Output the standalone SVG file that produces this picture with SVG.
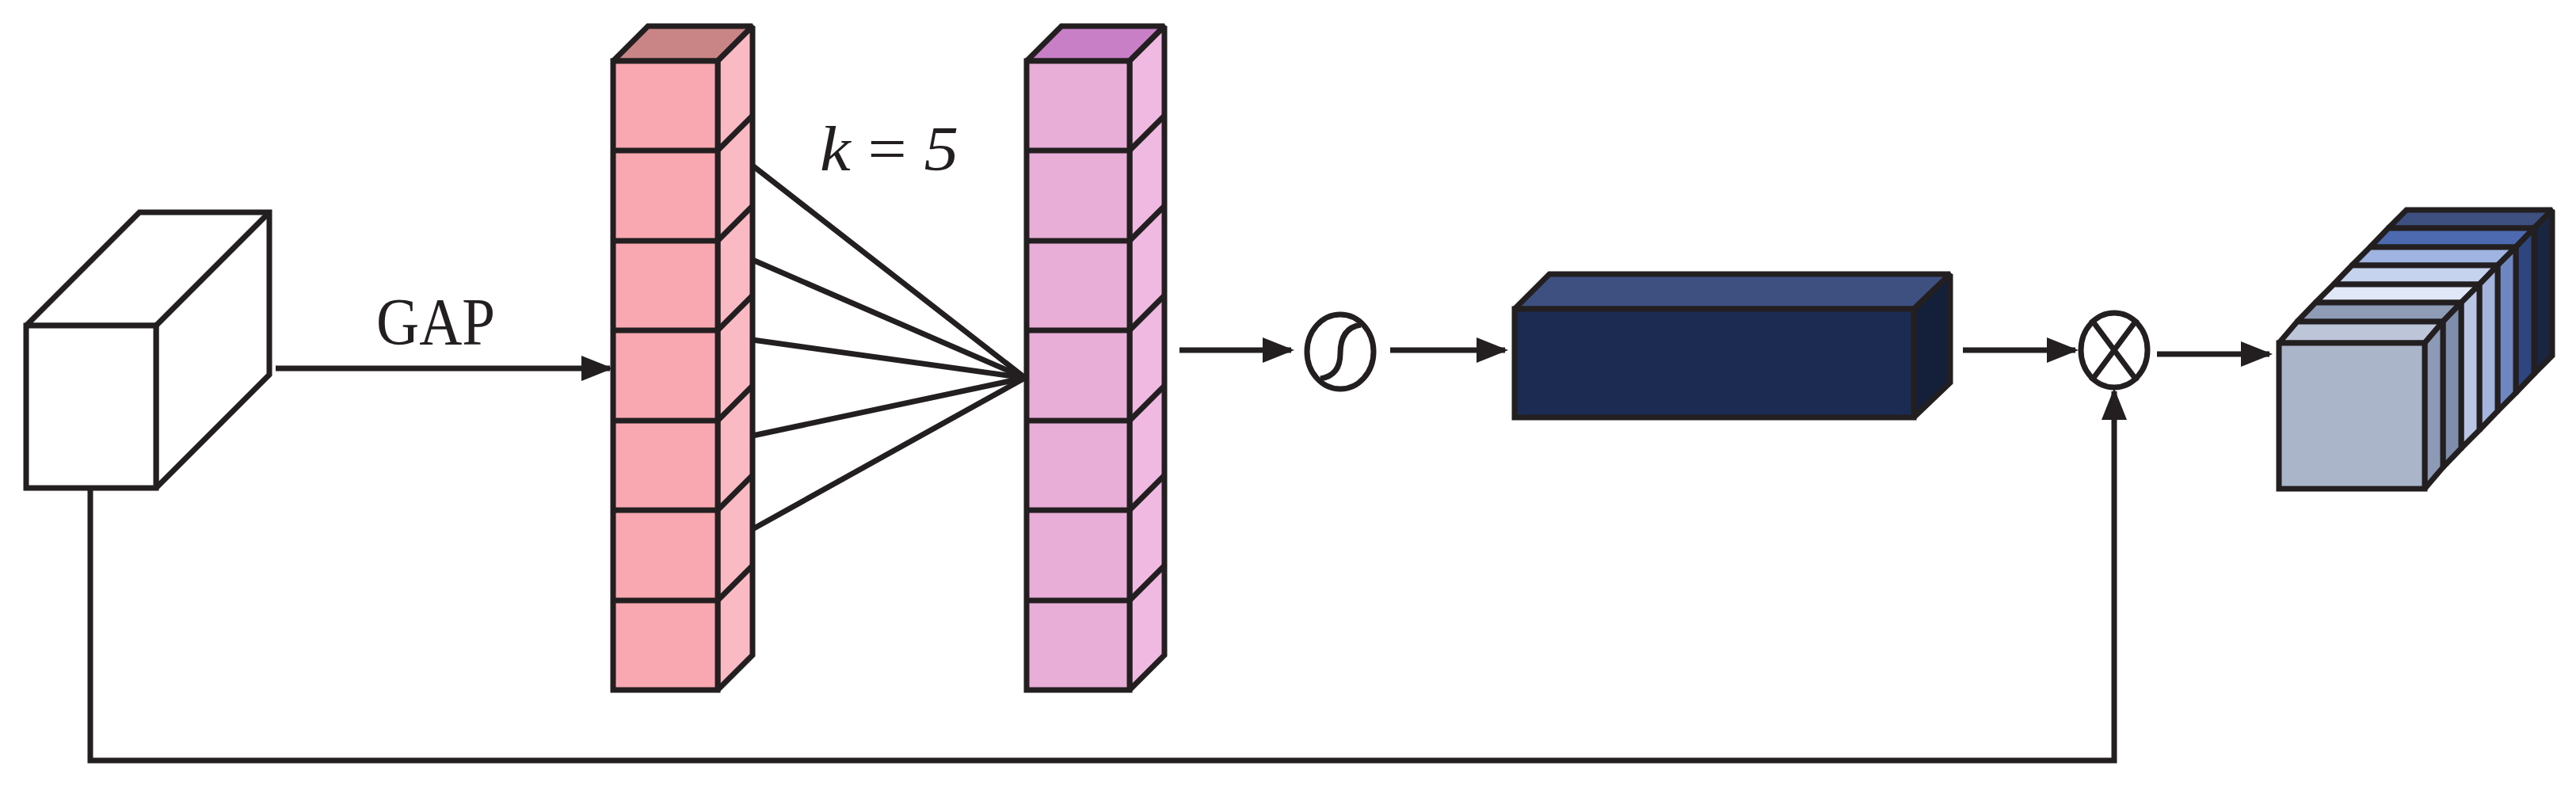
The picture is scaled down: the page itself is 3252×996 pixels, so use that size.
<svg xmlns="http://www.w3.org/2000/svg" width="3252" height="996" viewBox="0 0 3252 996">
<style>
.s{stroke:#231f20;stroke-width:7;stroke-linejoin:miter;stroke-miterlimit:2}
.l{stroke:#231f20;stroke-width:7;fill:none;stroke-miterlimit:2}
</style>
<defs>
<marker id="a" viewBox="0 0 10 10" refX="9" refY="5" markerWidth="40" markerHeight="40" markerUnits="userSpaceOnUse" orient="auto">
<path d="M0,1 L10,5 L0,9 z" fill="#231f20"/>
</marker>
</defs>
<rect width="3252" height="996" fill="#fff"/>
<g id="input">
<polygon class="s" fill="#fff" points="33,411 176,268 340,268 340,473 197,616 197,411"/>
<rect class="s" fill="#fff" x="33" y="411" width="164" height="205"/>
<line class="s" x1="197" y1="411" x2="340" y2="268"/>
</g>
<g id="gap-label"><text x="550" y="435" font-family="Liberation Serif, serif" font-size="84" text-anchor="middle" fill="#231f20" textLength="150" lengthAdjust="spacingAndGlyphs">GAP</text></g>
<g id="col1">
<polygon class="s" fill="#c98585" points="774,77 818,33 950,33 906,77"/>
<polygon class="s" fill="#f9bac3" points="906,77 950,33 950,827 906,871"/>
<rect class="s" fill="#f9a8b1" x="774" y="77" width="132" height="794"/>
<path class="l" d="M774,190H906L950,146M774,304H906L950,260M774,417H906L950,373M774,531H906L950,487M774,644H906L950,600M774,758H906L950,714"/>
</g>
<g id="col2">
<polygon class="s" fill="#c87fc6" points="1296,77 1340,33 1470,33 1426,77"/>
<polygon class="s" fill="#f0b9e1" points="1426,77 1470,33 1470,827 1426,871"/>
<rect class="s" fill="#e9aed7" x="1296" y="77" width="130" height="794"/>
<path class="l" d="M1296,190H1426L1470,146M1296,304H1426L1470,260M1296,417H1426L1470,373M1296,531H1426L1470,487M1296,644H1426L1470,600M1296,758H1426L1470,714"/>
</g>
<g id="k-label"><text x="1035" y="215" font-family="Liberation Serif, serif" font-size="80" fill="#231f20" textLength="175" lengthAdjust="spacingAndGlyphs"><tspan font-style="italic">k</tspan> = <tspan font-style="italic">5</tspan></text></g>
<g id="sigmoid">
<ellipse class="l" cx="1692" cy="444" rx="42" ry="47"/>
<path class="l" d="M1667,478 Q1692,474 1692,446 Q1692,414 1718,410"/>
</g>
<g id="attn">
<polygon class="s" fill="#3d5080" points="1912,390 1956,346 2462,346 2416,390"/>
<polygon class="s" fill="#14203a" points="2416,390 2462,346 2462,483 2416,527"/>
<rect class="s" fill="#1b2b52" x="1912" y="390" width="504" height="137"/>
</g>
<g id="multiply">
<ellipse class="l" cx="2669" cy="442" rx="42" ry="47"/>
<path class="l" d="M2640,403L2698,481M2698,403L2640,481"/>
</g>
<g id="output">
<g class="s">
<polygon fill="#3d5080" points="3015,288 3199,288 3222,265 3038,265"/>
<polygon fill="#1a2540" points="3199,288 3222,265 3222,449 3199,472"/>
<polygon fill="#4d6ab0" points="2992,312 3176,312 3199,288 3015,288"/>
<polygon fill="#2f4580" points="3176,312 3199,288 3199,472 3176,496"/>
<polygon fill="#9fb4e0" points="2969,335 3153,335 3176,312 2992,312"/>
<polygon fill="#6f87c0" points="3153,335 3176,312 3176,496 3153,519"/>
<polygon fill="#c5d3ef" points="2946,359 3130,359 3153,335 2969,335"/>
<polygon fill="#a3b5dd" points="3130,359 3153,335 3153,519 3130,543"/>
<polygon fill="#e0e8f8" points="2923,382 3107,382 3130,359 2946,359"/>
<polygon fill="#b8c5e5" points="3107,382 3130,359 3130,543 3107,566"/>
<polygon fill="#8e9cb6" points="2900,406 3084,406 3107,382 2923,382"/>
<polygon fill="#7e8dab" points="3084,406 3107,382 3107,566 3084,590"/>
<polygon fill="#bdc6d8" points="2877,433 3061,433 3084,406 2900,406"/>
<polygon fill="#8d9ab5" points="3061,433 3084,406 3084,590 3061,617"/>
<rect fill="#aab5c9" x="2877" y="433" width="184" height="184"/>
</g>
</g>
<g id="connectors">
<g class="l">
<line x1="950" y1="209" x2="1294" y2="477"/>
<line x1="950" y1="328" x2="1294" y2="477"/>
<line x1="950" y1="429" x2="1294" y2="477"/>
<line x1="950" y1="550" x2="1294" y2="477"/>
<line x1="950" y1="668" x2="1294" y2="477"/>
</g>
<g class="l" marker-end="url(#a)">
<line x1="348" y1="465" x2="770" y2="465"/>
<line x1="1489" y1="442" x2="1630" y2="442"/>
<line x1="1755" y1="442" x2="1900" y2="442"/>
<line x1="2478" y1="442" x2="2620" y2="442"/>
<line x1="2723" y1="447" x2="2865" y2="447"/>
<polyline points="114,616 114,960 2669,960 2669,494"/>
</g>
</g>
</svg>
